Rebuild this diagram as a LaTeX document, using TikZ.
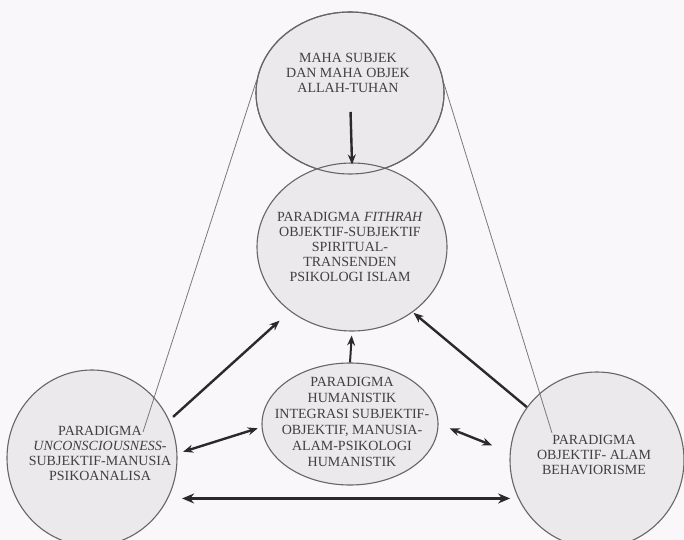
\documentclass[tikz,border=0pt]{standalone}
\usepackage{fontspec}
\setmainfont{Liberation Serif}
\usetikzlibrary{shapes.geometric,arrows.meta}
\definecolor{bgc}{HTML}{F9F7F9}
\definecolor{fillc}{HTML}{EBE9EB}
\definecolor{edgec}{HTML}{666666}
\definecolor{txt}{HTML}{404040}
\definecolor{arr}{HTML}{2A2A2A}
\definecolor{thinc}{HTML}{7A7A7A}
\begin{document}
\begin{tikzpicture}[x=1bp,y=-1bp,
  blob/.style={draw=edgec, line width=1.1bp, fill=fillc, ellipse, inner sep=0pt},
  lbl/.style={text=txt, font=\fontsize{14bp}{15bp}\selectfont, align=center, inner sep=0pt},
  thinline/.style={draw=thinc, line width=0.8bp},
  bigarrow/.style={draw=arr, line width=2.4bp, -{Stealth[length=10bp,width=8bp]}},
  twoway/.style={draw=arr, line width=2.4bp, {Stealth[length=10bp,width=8bp]}-{Stealth[length=10bp,width=8bp]}},
  widearrow/.style={draw=arr, line width=3bp, {Stealth[length=12bp,width=10bp]}-{Stealth[length=12bp,width=10bp]}}
]
\useasboundingbox (0,0) rectangle (684,540);
\fill[bgc] (0,0) rectangle (684,540);
\clip (0,0) rectangle (684,540);

% shapes
\node[blob, minimum width=188bp, minimum height=162bp] (top) at (350,93) {};
\node[blob, minimum width=190bp, minimum height=168bp] (mid) at (352,247) {};
\draw[edgec, line width=1.1bp] (top.center) ellipse [x radius=94, y radius=81];
\node[blob, minimum width=170bp, minimum height=176bp] (left) at (92,458) {};
\node[blob, minimum width=174bp, minimum height=176bp] (right) at (597,460) {};
\node[blob, minimum width=176bp, minimum height=122bp] (hum) at (350,424) {};

% texts
\node[lbl] (ttop) at (348,73) {MAHA SUBJEK\\DAN MAHA OBJEK\\ALLAH-TUHAN};
\node[lbl] (tmid) at (350,247) {PARADIGMA \textit{FITHRAH}\\OBJEKTIF-SUBJEKTIF\\SPIRITUAL-\\TRANSENDEN\\PSIKOLOGI ISLAM};
\node[lbl] (tleft) at (100,453) {PARADIGMA\\\textit{UNCONSCIOUSNESS}-\\SUBJEKTIF-MANUSIA\\PSIKOANALISA};
\node[lbl] (tright) at (594,455) {PARADIGMA\\OBJEKTIF- ALAM\\BEHAVIORISME};
\node[lbl, font=\fontsize{14bp}{16bp}\selectfont] (thum) at (352,422) {PARADIGMA\\HUMANISTIK\\INTEGRASI SUBJEKTIF-\\OBJEKTIF, MANUSIA-\\ALAM-PSIKOLOGI\\HUMANISTIK};

% thin lines
\coordinate (lfree) at (143,432);
\coordinate (rfree) at (552,433);
\draw[thinline] (top.172) -- (lfree);
\draw[thinline] (top.6) -- (rfree);

% arrows
\draw[bigarrow, shorten <=19bp, shorten >=-2bp] (top.center) -- (mid.north);
\draw[bigarrow, line width=2bp, shorten >=4bp] (hum.north) -- (mid.south);
\draw[bigarrow, shorten <=5bp, shorten >=14bp] (left.26) -- (mid.226);
\draw[bigarrow, shorten >=1bp] (right.143) -- (mid.313.6);
\draw[twoway, shorten <=6bp, shorten >=4bp] (left.3) -- (hum.182);
\draw[twoway, shorten <=12bp, shorten >=19bp] (hum.east) -- (right.175);
\draw[widearrow, shorten <=14bp, shorten >=8bp] (left.-28) -- (left.-28 -| right.206);
\end{tikzpicture}
\end{document}
